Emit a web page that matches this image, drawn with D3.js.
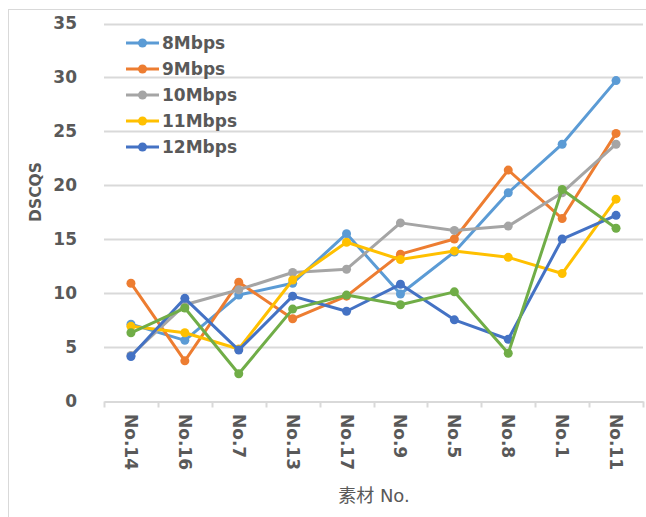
<!DOCTYPE html>
<html>
<head>
<meta charset="utf-8">
<script src="https://cdn.jsdelivr.net/npm/d3@7"></script>
<style>
  html, body { margin: 0; padding: 0; background: #fff; }
  svg { display: block; }
</style>
</head>
<body>
<svg id="chart" width="646" height="517"></svg>
<script>
// Categories (素材 No.) and DSCQS scores per bitrate
const categories = ["No.14", "No.16", "No.7", "No.13", "No.17", "No.9", "No.5", "No.8", "No.1", "No.11"];
const s8Mbps  = [7.1, 5.6, 9.8, 10.9, 15.5, 9.9, 13.8, 19.3, 23.8, 29.7];
const s9Mbps  = [10.9, 3.7, 11.0, 7.6, 9.7, 13.6, 15.0, 21.4, 16.9, 24.8];
const s10Mbps = [4.2, 8.9, 10.3, 11.9, 12.2, 16.5, 15.8, 16.2, 19.3, 23.8];
const s11Mbps = [6.9, 6.3, 4.8, 11.2, 14.7, 13.1, 13.9, 13.3, 11.8, 18.7];
const s12Mbps = [4.1, 9.5, 4.7, 9.7, 8.3, 10.8, 7.5, 5.7, 15.0, 17.2];
const s13Mbps = [6.3, 8.6, 2.5, 8.5, 9.8, 8.9, 10.1, 4.4, 19.6, 16.0];
const legendNames = ["8Mbps", "9Mbps", "10Mbps", "11Mbps", "12Mbps"];
const yTicks = [0, 5, 10, 15, 20, 25, 30, 35];

const series = [
  { name: "8Mbps",  values: s8Mbps,  color: "#5B9BD5", legend: true },
  { name: "9Mbps",  values: s9Mbps,  color: "#ED7D31", legend: true },
  { name: "10Mbps", values: s10Mbps, color: "#A5A5A5", legend: true },
  { name: "11Mbps", values: s11Mbps, color: "#FFC000", legend: true },
  { name: "12Mbps", values: s12Mbps, color: "#4472C4", legend: true },
  { name: "13Mbps", values: s13Mbps, color: "#70AD47", legend: false }
];

const svg = d3.select("#chart");
const textColor = "#595959";
const gridColor = "#D9D9D9";
const font = "'DejaVu Sans', 'Noto Sans CJK SC', sans-serif";

// chart area frame
svg.append("rect")
  .attr("x", 8.5).attr("y", 9.5)
  .attr("width", 700).attr("height", 600)
  .attr("fill", "#fff").attr("stroke", gridColor).attr("stroke-width", 1);

const plot = { left: 104, right: 643, top: 23.5, bottom: 400.7 };

const x = d3.scaleBand().domain(categories).range([plot.left, plot.right]);
const y = d3.scaleLinear().domain([0, 35]).range([plot.bottom, plot.top]);

// horizontal gridlines
svg.append("g")
  .selectAll("line")
  .data(yTicks.filter(d => d > 0))
  .join("line")
  .attr("x1", plot.left).attr("x2", plot.right)
  .attr("y1", d => Math.round(y(d)) + 0.5).attr("y2", d => Math.round(y(d)) + 0.5)
  .attr("stroke", gridColor).attr("stroke-width", 2);

// y axis labels
const yAxis = d3.axisLeft(y).tickValues(yTicks).tickSize(0).tickPadding(0);
const gy = svg.append("g").attr("transform", "translate(77,0)").call(yAxis);
gy.select(".domain").remove();
gy.selectAll("text")
  .attr("fill", textColor)
  .style("font-family", font)
  .style("font-weight", "bold")
  .style("font-size", "17px");

// x axis: baseline, boundary ticks and rotated labels
const xAxis = d3.axisBottom(x).tickSize(0).tickFormat(() => "");
const gx = svg.append("g").attr("transform", `translate(0,${Math.round(plot.bottom) + 0.5})`).call(xAxis);
gx.select(".domain").attr("stroke", gridColor).attr("stroke-width", 2);
gx.selectAll(".tick").remove();
const bounds = categories.map(c => x(c)).concat([x(categories[categories.length - 1]) + x.bandwidth()]);
gx.selectAll("line.bound")
  .data(bounds)
  .join("line")
  .attr("class", "bound")
  .attr("x1", d => Math.round(d) + 0.5).attr("x2", d => Math.round(d) + 0.5)
  .attr("y1", 0).attr("y2", 6)
  .attr("stroke", gridColor).attr("stroke-width", 2);

svg.append("g")
  .selectAll("text")
  .data(categories)
  .join("text")
  .attr("transform", d => `translate(${x(d) + x.bandwidth() / 2},414) rotate(90)`)
  .attr("text-anchor", "start")
  .attr("dominant-baseline", "central")
  .attr("fill", textColor)
  .style("font-family", font)
  .style("font-weight", "bold")
  .style("font-size", "17px")
  .text(d => d);

// axis titles
svg.append("text")
  .attr("transform", "translate(36,192) rotate(-90)")
  .attr("text-anchor", "middle")
  .attr("dominant-baseline", "central")
  .attr("fill", textColor)
  .style("font-family", font)
  .style("font-weight", "bold")
  .style("font-size", "15.5px")
  .text("DSCQS");

svg.append("text")
  .attr("x", 374).attr("y", 495)
  .attr("text-anchor", "middle")
  .attr("dominant-baseline", "central")
  .attr("fill", textColor)
  .style("font-family", font)
  .style("font-size", "18px")
  .text("素材 No.");

// series lines and markers
const line = d3.line()
  .x((d, i) => x(categories[i]) + x.bandwidth() / 2)
  .y(d => y(d));

const gs = svg.append("g").selectAll("g").data(series).join("g");
gs.append("path")
  .attr("d", d => line(d.values))
  .attr("fill", "none")
  .attr("stroke", d => d.color)
  .attr("stroke-width", 3)
  .attr("stroke-linejoin", "round");
gs.each(function (s) {
  d3.select(this).selectAll("circle")
    .data(s.values)
    .join("circle")
    .attr("cx", (d, i) => x(categories[i]) + x.bandwidth() / 2)
    .attr("cy", d => y(d))
    .attr("r", 4.5)
    .attr("fill", s.color);
});

// legend
const legendItems = series.filter(s => s.legend && legendNames.includes(s.name));
const lg = svg.append("g").selectAll("g").data(legendItems).join("g")
  .attr("transform", (d, i) => `translate(0,${43 + i * 26})`);
lg.append("line")
  .attr("x1", 126).attr("x2", 159).attr("y1", 0).attr("y2", 0)
  .attr("stroke", d => d.color).attr("stroke-width", 3);
lg.append("circle")
  .attr("cx", 142.5).attr("cy", 0).attr("r", 4.5)
  .attr("fill", d => d.color);
lg.append("text")
  .attr("x", 162).attr("y", 0)
  .attr("dominant-baseline", "central")
  .attr("fill", textColor)
  .style("font-family", font)
  .style("font-weight", "bold")
  .style("font-size", "17px")
  .text(d => d.name);
</script>
</body>
</html>
